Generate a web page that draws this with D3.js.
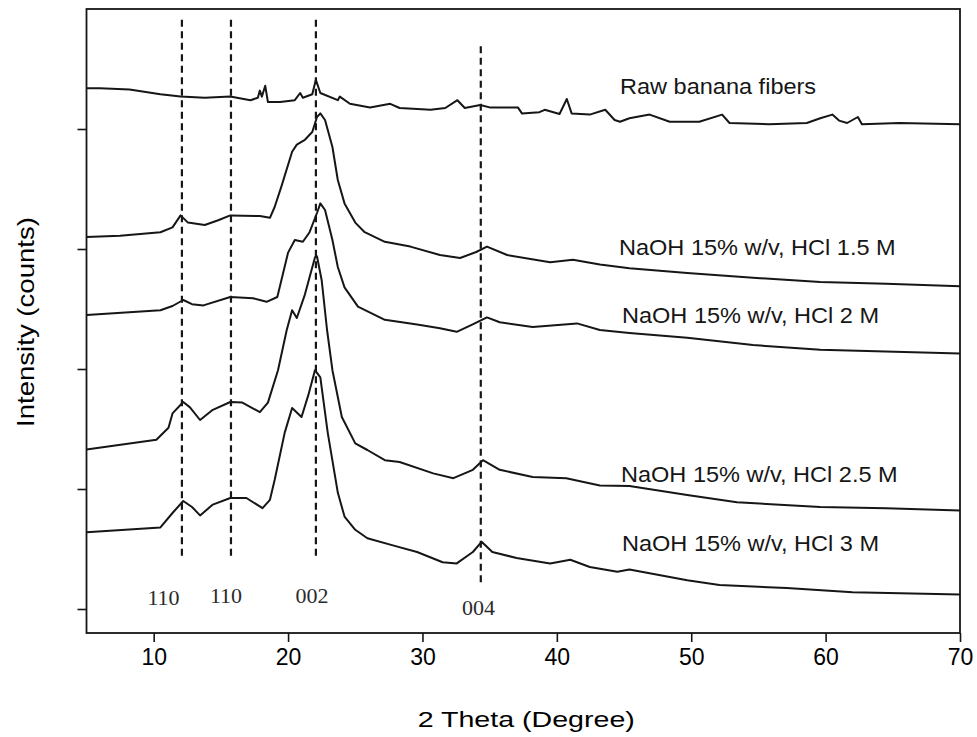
<!DOCTYPE html>
<html>
<head>
<meta charset="utf-8">
<script src="https://cdn.jsdelivr.net/npm/d3@7"></script>
<style>
  html, body { margin: 0; padding: 0; background: #ffffff; }
  svg { display: block; }
</style>
</head>
<body>
<svg id="chart" width="977" height="737"></svg>
<script>
// ---------- DATA (2θ in degrees, intensity in arbitrary counts) ----------
const xTicks = [10, 20, 30, 40, 50, 60, 70];
const yTicks = [0, 100, 200, 300, 400];
const xLabel = "2 Theta (Degree)";
const yLabel = "Intensity (counts)";

const seriesNames = [
  "Raw banana fibers",
  "NaOH 15% w/v, HCl 1.5 M",
  "NaOH 15% w/v, HCl 2 M",
  "NaOH 15% w/v, HCl 2.5 M",
  "NaOH 15% w/v, HCl 3 M"
];

const rawFibers = [[5.0,434],[6.0,434],[8.2,433],[10.5,429],[12.0,427],[13.8,426],[15.7,427],[17.2,424],[17.75,426],[17.9,432],[18.05,427],[18.3,436],[18.5,422.5],[19.4,422.5],[20.5,424],[20.9,430],[21.1,426],[21.8,429],[22.07,441],[22.4,430],[23.7,424],[23.85,427],[24.6,421],[26.1,418],[27.6,421],[28.3,417.5],[30.6,416],[31.7,417.5],[32.6,424],[33.15,417.5],[34.3,420],[35.0,418],[37.1,418],[37.4,413],[38.7,414],[39.1,416],[40.2,412.5],[40.74,425],[41.1,413],[42.45,412],[43.6,416],[44.3,407.5],[44.7,406],[45.4,409],[46.9,412],[48.4,406],[50.6,406],[52.3,412],[52.85,405],[55.8,404],[58.6,405],[59.6,409],[60.5,412],[61.0,407],[61.6,405],[62.4,410],[62.7,404],[65.5,405],[70,404]];

const hcl15 = [[5.0,310],[7.5,311],[10.5,314],[11.4,318],[12.0,328],[12.55,322],[13.8,320],[14.8,324],[15.7,328],[17.9,327.5],[18.65,326],[19.0,335],[19.5,352],[20.3,381],[20.65,387],[21.25,391],[21.8,397.5],[22.15,410],[22.4,413],[22.75,407.5],[23.3,385],[23.7,357.5],[24.2,338],[25.0,322],[25.7,314],[27.2,306],[29.1,302],[31.3,295],[32.8,292.5],[34.0,297.5],[34.8,302],[36.3,295],[39.5,289],[41.2,291],[43.2,287],[45.4,284],[49.7,280],[54.6,276],[59.6,272.5],[64.5,271],[70,269]];

const hcl20 = [[5.0,245],[10.5,249],[11.4,252.5],[12.2,257.5],[12.85,254],[13.7,253],[15.7,260],[17.4,259],[18.4,256],[19.2,260],[20.0,297],[20.5,307.5],[21.1,306],[21.6,314],[22.15,330],[22.4,338],[22.75,332.5],[23.3,307.5],[23.7,285],[24.2,268],[25.2,252],[27.2,241],[29.6,237],[31.3,234],[32.55,231],[33.7,237],[34.8,243],[35.75,239],[38.2,235],[41.5,238],[43.2,232.5],[45.4,230],[49.7,226],[54.6,220],[59.6,216],[70,213]];

const hcl25 = [[5.0,133],[10.2,141],[11.1,151],[11.4,163],[12.2,172.5],[12.7,168],[13.45,157.5],[14.4,166],[15.7,172.5],[16.6,172],[17.9,164],[18.5,172],[19.25,199],[19.9,232.5],[20.3,249],[20.65,242.5],[21.25,262],[22.0,293],[22.15,294],[22.5,274],[22.9,232.5],[23.3,199],[24.0,160],[25.0,138],[25.9,132.5],[27.2,124],[28.3,122.5],[30.8,113],[32.3,109],[33.75,116],[34.5,124],[35.75,116],[38.2,110],[40.7,109],[43.2,103],[45.4,102.5],[49.7,95],[53.4,89],[59.6,85],[64.5,84],[70,82]];

const hcl30 = [[5.0,64],[10.5,68],[11.4,80],[12.2,90],[12.85,85],[13.45,78],[14.4,87],[15.7,92.5],[16.9,92.5],[18.1,84],[18.65,91],[19.0,107.5],[19.75,147],[20.3,167.5],[21.0,160],[21.5,178],[22.0,199],[22.4,193],[22.95,147],[23.7,97],[24.2,77],[25.0,66],[25.9,59],[27.8,53],[29.6,47.5],[31.5,39],[32.55,38],[33.75,47.5],[34.4,56],[35.2,47.5],[37.0,42.5],[39.5,38],[41.0,41],[42.45,35],[44.5,31],[45.4,33],[49.7,24],[52.1,20],[57.1,17.5],[62.0,14],[70,12]];

const allSeries = [rawFibers, hcl15, hcl20, hcl25, hcl30];

// Crystal plane reflections (2θ) and their Miller-index labels
const peakPositions = [12.1, 15.75, 22.07, 34.34];
const peakLabels = ["110", "110", "002", "004"];

// ---------- LAYOUT ----------
const svg = d3.select("#chart");
const plot = { left: 86.5, right: 960, top: 9, bottom: 633 };
const x = d3.scaleLinear().domain([5, 70]).range([plot.left, plot.right]);
const y = d3.scaleLinear().domain([-20, 500]).range([plot.bottom, plot.top]);
const ink = "#161616";
const sans = "'Liberation Sans', Arial, Helvetica, sans-serif";
const serif = "'Liberation Serif', 'Times New Roman', serif";

// reference dashed lines (extent in data units)
const peakLineTop = [491, 491, 491, 469];
const peakLineBottom = [41, 41, 41, 22];
svg.append("g").selectAll("line").data(peakPositions).join("line")
  .attr("x1", d => x(d)).attr("x2", d => x(d))
  .attr("y1", (d, i) => y(peakLineTop[i]))
  .attr("y2", (d, i) => y(peakLineBottom[i]))
  .attr("stroke", ink).attr("stroke-width", 2.2)
  .attr("stroke-dasharray", "7,4.5");

// peak labels
const peakLabelDx = [163.5 - x(12.1), 226 - x(15.75), 312 - x(22.07), 478.5 - x(34.34)];
const peakLabelY = [605, 603, 603, 615];
svg.append("g").selectAll("text").data(peakLabels).join("text")
  .attr("x", (d, i) => x(peakPositions[i]) + peakLabelDx[i])
  .attr("y", (d, i) => peakLabelY[i])
  .attr("text-anchor", "middle")
  .attr("font-family", serif).attr("font-size", 22)
  .attr("fill", "#2b2b2b")
  .text(d => d);

// curves
const line = d3.line().x(d => x(d[0])).y(d => y(d[1]));
svg.append("g").selectAll("path").data(allSeries).join("path")
  .attr("d", line)
  .attr("fill", "none")
  .attr("stroke", ink)
  .attr("stroke-width", 2)
  .attr("stroke-linejoin", "round");

// series labels
const labelPos = [[620, 93.5], [619, 255], [622, 322.5], [621, 482], [622, 551]];
svg.append("g").selectAll("text").data(seriesNames).join("text")
  .attr("transform", (d, i) => `translate(${labelPos[i][0]},${labelPos[i][1]}) scale(1.07,1)`)
  .attr("font-family", sans).attr("font-size", 22)
  .attr("fill", ink)
  .text(d => d);

// axes
const xAxis = d3.axisBottom(x).tickValues(xTicks).tickSizeInner(9).tickSizeOuter(0).tickPadding(7)
  .tickFormat(d3.format("d"));
const gx = svg.append("g").attr("transform", `translate(0,${plot.bottom})`).call(xAxis);
gx.select(".domain").remove();
gx.selectAll(".tick line").attr("stroke", ink).attr("stroke-width", 1.6);
gx.selectAll(".tick text").attr("font-family", sans).attr("font-size", 23).attr("fill", "#000");

const yAxis = d3.axisLeft(y).tickValues(yTicks).tickSizeInner(9).tickSizeOuter(0).tickFormat("");
const gy = svg.append("g").attr("transform", `translate(${plot.left},0)`).call(yAxis);
gy.select(".domain").remove();
gy.selectAll(".tick line").attr("stroke", ink).attr("stroke-width", 1.6);

// frame
svg.append("rect")
  .attr("x", plot.left).attr("y", plot.top)
  .attr("width", plot.right - plot.left).attr("height", plot.bottom - plot.top)
  .attr("fill", "none").attr("stroke", ink).attr("stroke-width", 1.8);

// axis titles
svg.append("text")
  .attr("transform", `translate(${(plot.left + plot.right) / 2 + 3},727) scale(1.3,1)`)
  .attr("text-anchor", "middle")
  .attr("font-family", sans).attr("font-size", 22).attr("fill", "#000")
  .text(xLabel);

svg.append("text")
  .attr("transform", `translate(34,322) rotate(-90) scale(1.2,1)`)
  .attr("text-anchor", "middle")
  .attr("font-family", sans).attr("font-size", 23).attr("fill", "#000")
  .text(yLabel);
</script>
</body>
</html>
